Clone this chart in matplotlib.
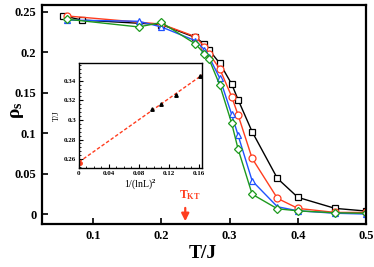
import numpy as np
import matplotlib
matplotlib.use('Agg')
import matplotlib.pyplot as plt
from matplotlib.ticker import AutoMinorLocator

plt.rcParams['font.family'] = ['Liberation Serif', 'DejaVu Serif']
plt.rcParams['font.weight'] = 'bold'
plt.rcParams['mathtext.fontset'] = 'custom'
plt.rcParams['mathtext.rm'] = 'Liberation Serif:bold'
plt.rcParams['mathtext.it'] = 'Liberation Serif:bold'
plt.rcParams['mathtext.bf'] = 'Liberation Serif:bold'

# main panel: superfluid stiffness vs temperature
black_T = [0.0556, 0.0833, 0.2, 0.25, 0.263, 0.27, 0.2857, 0.303, 0.3125, 0.333, 0.37, 0.4, 0.4545, 0.5]
black_rho = [0.245, 0.2395, 0.234, 0.218, 0.21, 0.2025, 0.186, 0.1605, 0.141, 0.1016, 0.044, 0.0206, 0.007, 0.0037]

red_T = [0.0625, 0.2, 0.25, 0.263, 0.27, 0.2857, 0.303, 0.3125, 0.333, 0.37, 0.4, 0.4545, 0.5]
red_rho = [0.2445, 0.2345, 0.219, 0.2065, 0.198, 0.179, 0.145, 0.122, 0.0687, 0.0194, 0.007, 0.002, 0.002]

blue_T = [0.0625, 0.1667, 0.2, 0.25, 0.263, 0.27, 0.2857, 0.303, 0.3125, 0.333, 0.37, 0.4, 0.4545, 0.5]
blue_rho = [0.2395, 0.238, 0.231, 0.214, 0.203, 0.194, 0.1675, 0.123, 0.097, 0.041, 0.009, 0.004, 0.001, 0.0]

green_T = [0.0625, 0.1667, 0.2, 0.25, 0.263, 0.27, 0.2857, 0.303, 0.3125, 0.333, 0.37, 0.4, 0.4545, 0.5]
green_rho = [0.2405, 0.231, 0.2365, 0.21, 0.198, 0.191, 0.159, 0.112, 0.080, 0.0245, 0.0065, 0.004, 0.0015, 0.001]

T_kt = 0.235

# inset: T/J vs 1/(lnL)^2
ins_x = [0.097, 0.110, 0.129, 0.161]
ins_y = [0.3107, 0.3158, 0.3253, 0.3447]
ins_err = [0.0008, 0.0008, 0.0008, 0.0008]
fit_x = [0.0, 0.166]
fit_y = [0.257, 0.3467]
ext_x = [0.001]
ext_y = [0.2565]

fig = plt.figure(figsize=(3.74, 2.67), dpi=100)
ax = fig.add_axes([0.112, 0.161, 0.867, 0.82])

ax.plot(black_T, black_rho, '-s', color='black', mfc='white', ms=5, lw=1.0, mew=0.9)
ax.plot(red_T, red_rho, '-o', color='#ff3d1f', mfc='white', ms=5, lw=1.0, mew=0.9)
ax.plot(blue_T, blue_rho, '-^', color='#1f52ff', mfc='white', ms=5, lw=1.0, mew=0.9)
ax.plot(green_T, green_rho, '-D', color='#1e9a1e', mfc='white', ms=4, lw=1.0, mew=0.9)

ax.set_xlim(0.025, 0.5)
ax.set_ylim(-0.0123, 0.258)
ax.set_xticks([0.1, 0.2, 0.3, 0.4, 0.5])
ax.set_xticklabels(['0.1', '0.2', '0.3', '0.4', '0.5'])
ax.set_yticks([0, 0.05, 0.1, 0.15, 0.2, 0.25])
ax.set_yticklabels(['0', '0.05', '0.1', '0.15', '0.2', '0.25'])
ax.tick_params(direction='in', length=4, width=1.2, labelsize=9)
ax.tick_params(axis='x', pad=4)
ax.tick_params(axis='y', pad=4)
for s in ax.spines.values():
    s.set_linewidth(1.6)

fig.text(203 / 374, 1 - 258 / 267, 'T/J', fontsize=14, ha='center', va='baseline')
fig.text(18 / 374, 1 - 110 / 267, r'$\rho_s$', fontsize=14, rotation=90,
         ha='center', va='center')

ax.annotate('', xy=(T_kt, -0.0123), xytext=(T_kt, 0.011),
            arrowprops=dict(arrowstyle='-|>', color='#ff3d1f', lw=1.6, mutation_scale=11),
            annotation_clip=False)
ax.text(T_kt - 0.009, 0.019, r'T$_{\rm KT}$', color='#ff3d1f', fontsize=8.5)

# inset
ins = fig.add_axes([0.211, 0.371, 0.329, 0.393])
ins.plot(fit_x, fit_y, '--', color='#ff3d1f', lw=1.0, dashes=(2.5, 1.5))
ins.plot(ext_x, ext_y, 'o', color='#ff3d1f', ms=2.5)
ins.errorbar(ins_x, ins_y, yerr=ins_err, fmt='^', color='black', ms=2.5, lw=0.6, capsize=1)
ins.set_xlim(0, 0.164)
ins.set_ylim(0.251, 0.358)
ins.set_xticks([0, 0.04, 0.08, 0.12, 0.16])
ins.set_xticklabels(['0', '0.04', '0.08', '0.12', '0.16'])
ins.set_yticks([0.26, 0.28, 0.3, 0.32, 0.34])
ins.set_yticklabels(['0.26', '0.28', '0.3', '0.32', '0.34'])
ins.xaxis.set_minor_locator(AutoMinorLocator(4))
ins.yaxis.set_minor_locator(AutoMinorLocator(5))
ins.tick_params(which='both', direction='in', labelsize=5, pad=2)
ins.tick_params(which='major', length=3, width=0.8)
ins.tick_params(which='minor', length=1.5, width=0.6)
ins.set_xlabel(r'1/(lnL)$^2$', fontsize=7, labelpad=1)
ins.set_ylabel('T/J', fontsize=6, fontweight='normal', labelpad=2)
for s in ins.spines.values():
    s.set_linewidth(1.0)

fig.savefig('out.png', dpi=100)
